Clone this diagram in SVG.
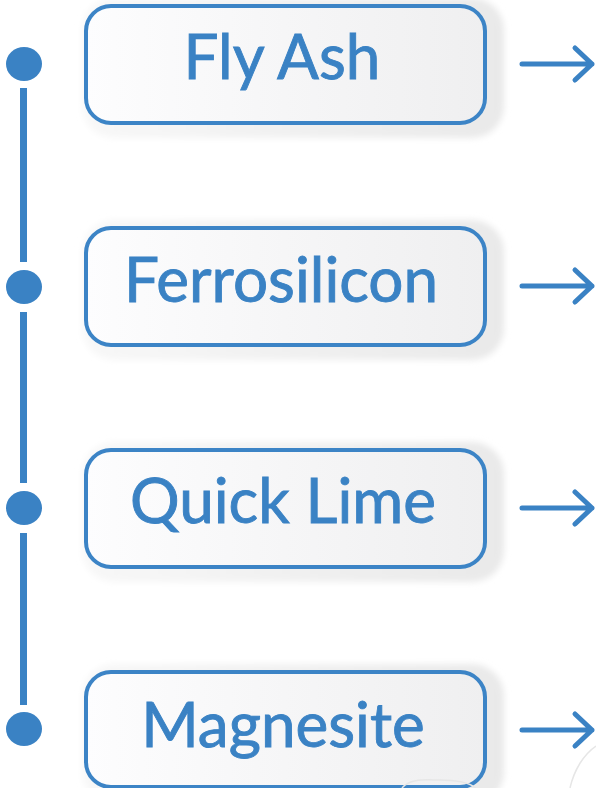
<svg xmlns="http://www.w3.org/2000/svg" width="596" height="788" viewBox="0 0 596 788">
<defs>
<linearGradient id="boxg" x1="0" y1="0" x2="1" y2="0">
<stop offset="0" stop-color="#fdfdfe"/>
<stop offset="1" stop-color="#efeff0"/>
</linearGradient>
<linearGradient id="shg" x1="0" y1="0" x2="1" y2="0">
<stop offset="0" stop-color="#f8f8f8"/>
<stop offset="1" stop-color="#e9e9e9"/>
</linearGradient>
<filter id="blur" x="-10%" y="-20%" width="120%" height="140%">
<feGaussianBlur stdDeviation="3"/>
</filter>
</defs>
<style>
.shadow{fill:url(#shg);filter:url(#blur)}
.box{fill:url(#boxg);stroke:#3c84c6;stroke-width:4}
.lbl{font-family:Lato,"Open Sans","Liberation Sans",sans-serif;font-size:62px;fill:#3a82c4;stroke:#3a82c4;stroke-width:0.9;text-anchor:middle}
.dot{fill:#3a82c4}
.line{stroke:#3a82c4;stroke-width:7;fill:none}
.arrow{stroke:#3a82c4;stroke-width:5;fill:none;stroke-linecap:round;stroke-linejoin:round}
.faint{stroke:#e6e6e6;stroke-width:1.5;fill:none}
</style>
<rect width="596" height="788" fill="#ffffff"/>
<g id="connectors">
<line class="line" x1="23.5" y1="88" x2="23.5" y2="262"/>
<line class="line" x1="23.5" y1="312" x2="23.5" y2="483"/>
<line class="line" x1="23.5" y1="533" x2="23.5" y2="705"/>
<path class="arrow" d="M522 64H592M575 48L592 64L575 80"/>
<path class="arrow" d="M522 286H592M575 270L592 286L575 302"/>
<path class="arrow" d="M522 508H592M575 492L592 508L575 524"/>
<path class="arrow" d="M522 730H592M575 714L592 730L575 746"/>
</g>
<g id="dots">
<ellipse class="dot" cx="24" cy="64" rx="18" ry="17"/>
<ellipse class="dot" cx="24" cy="287" rx="18" ry="17"/>
<ellipse class="dot" cx="24" cy="508" rx="18" ry="17"/>
<ellipse class="dot" cx="24" cy="729" rx="18" ry="17"/>
</g>
<g id="node-fly-ash">
<rect class="shadow" x="82" y="-2" width="422" height="140" rx="32"/>
<rect class="box" x="86" y="6" width="399" height="117" rx="25"/>
<text class="lbl" x="282" y="79">Fly Ash</text>
</g>
<g id="node-ferrosilicon">
<rect class="shadow" x="82" y="220" width="422" height="140" rx="32"/>
<rect class="box" x="86" y="228" width="399" height="117" rx="25"/>
<text class="lbl" x="281" y="302">Ferrosilicon</text>
</g>
<g id="node-quick-lime">
<rect class="shadow" x="82" y="442" width="422" height="140" rx="32"/>
<rect class="box" x="86" y="450" width="399" height="117" rx="25"/>
<text class="lbl" x="283" y="523">Quick Lime</text>
</g>
<g id="node-magnesite">
<rect class="shadow" x="82" y="664" width="422" height="140" rx="32"/>
<rect class="box" x="86" y="672" width="399" height="115" rx="25"/>
<text class="lbl" x="283" y="747">Magnesite</text>
</g>
<path class="faint" d="M402 788C410 778 425 780 440 780C455 780 468 782 476 788"/>
<path class="faint" d="M570 788C574 770 584 754 596 746"/>
</svg>
